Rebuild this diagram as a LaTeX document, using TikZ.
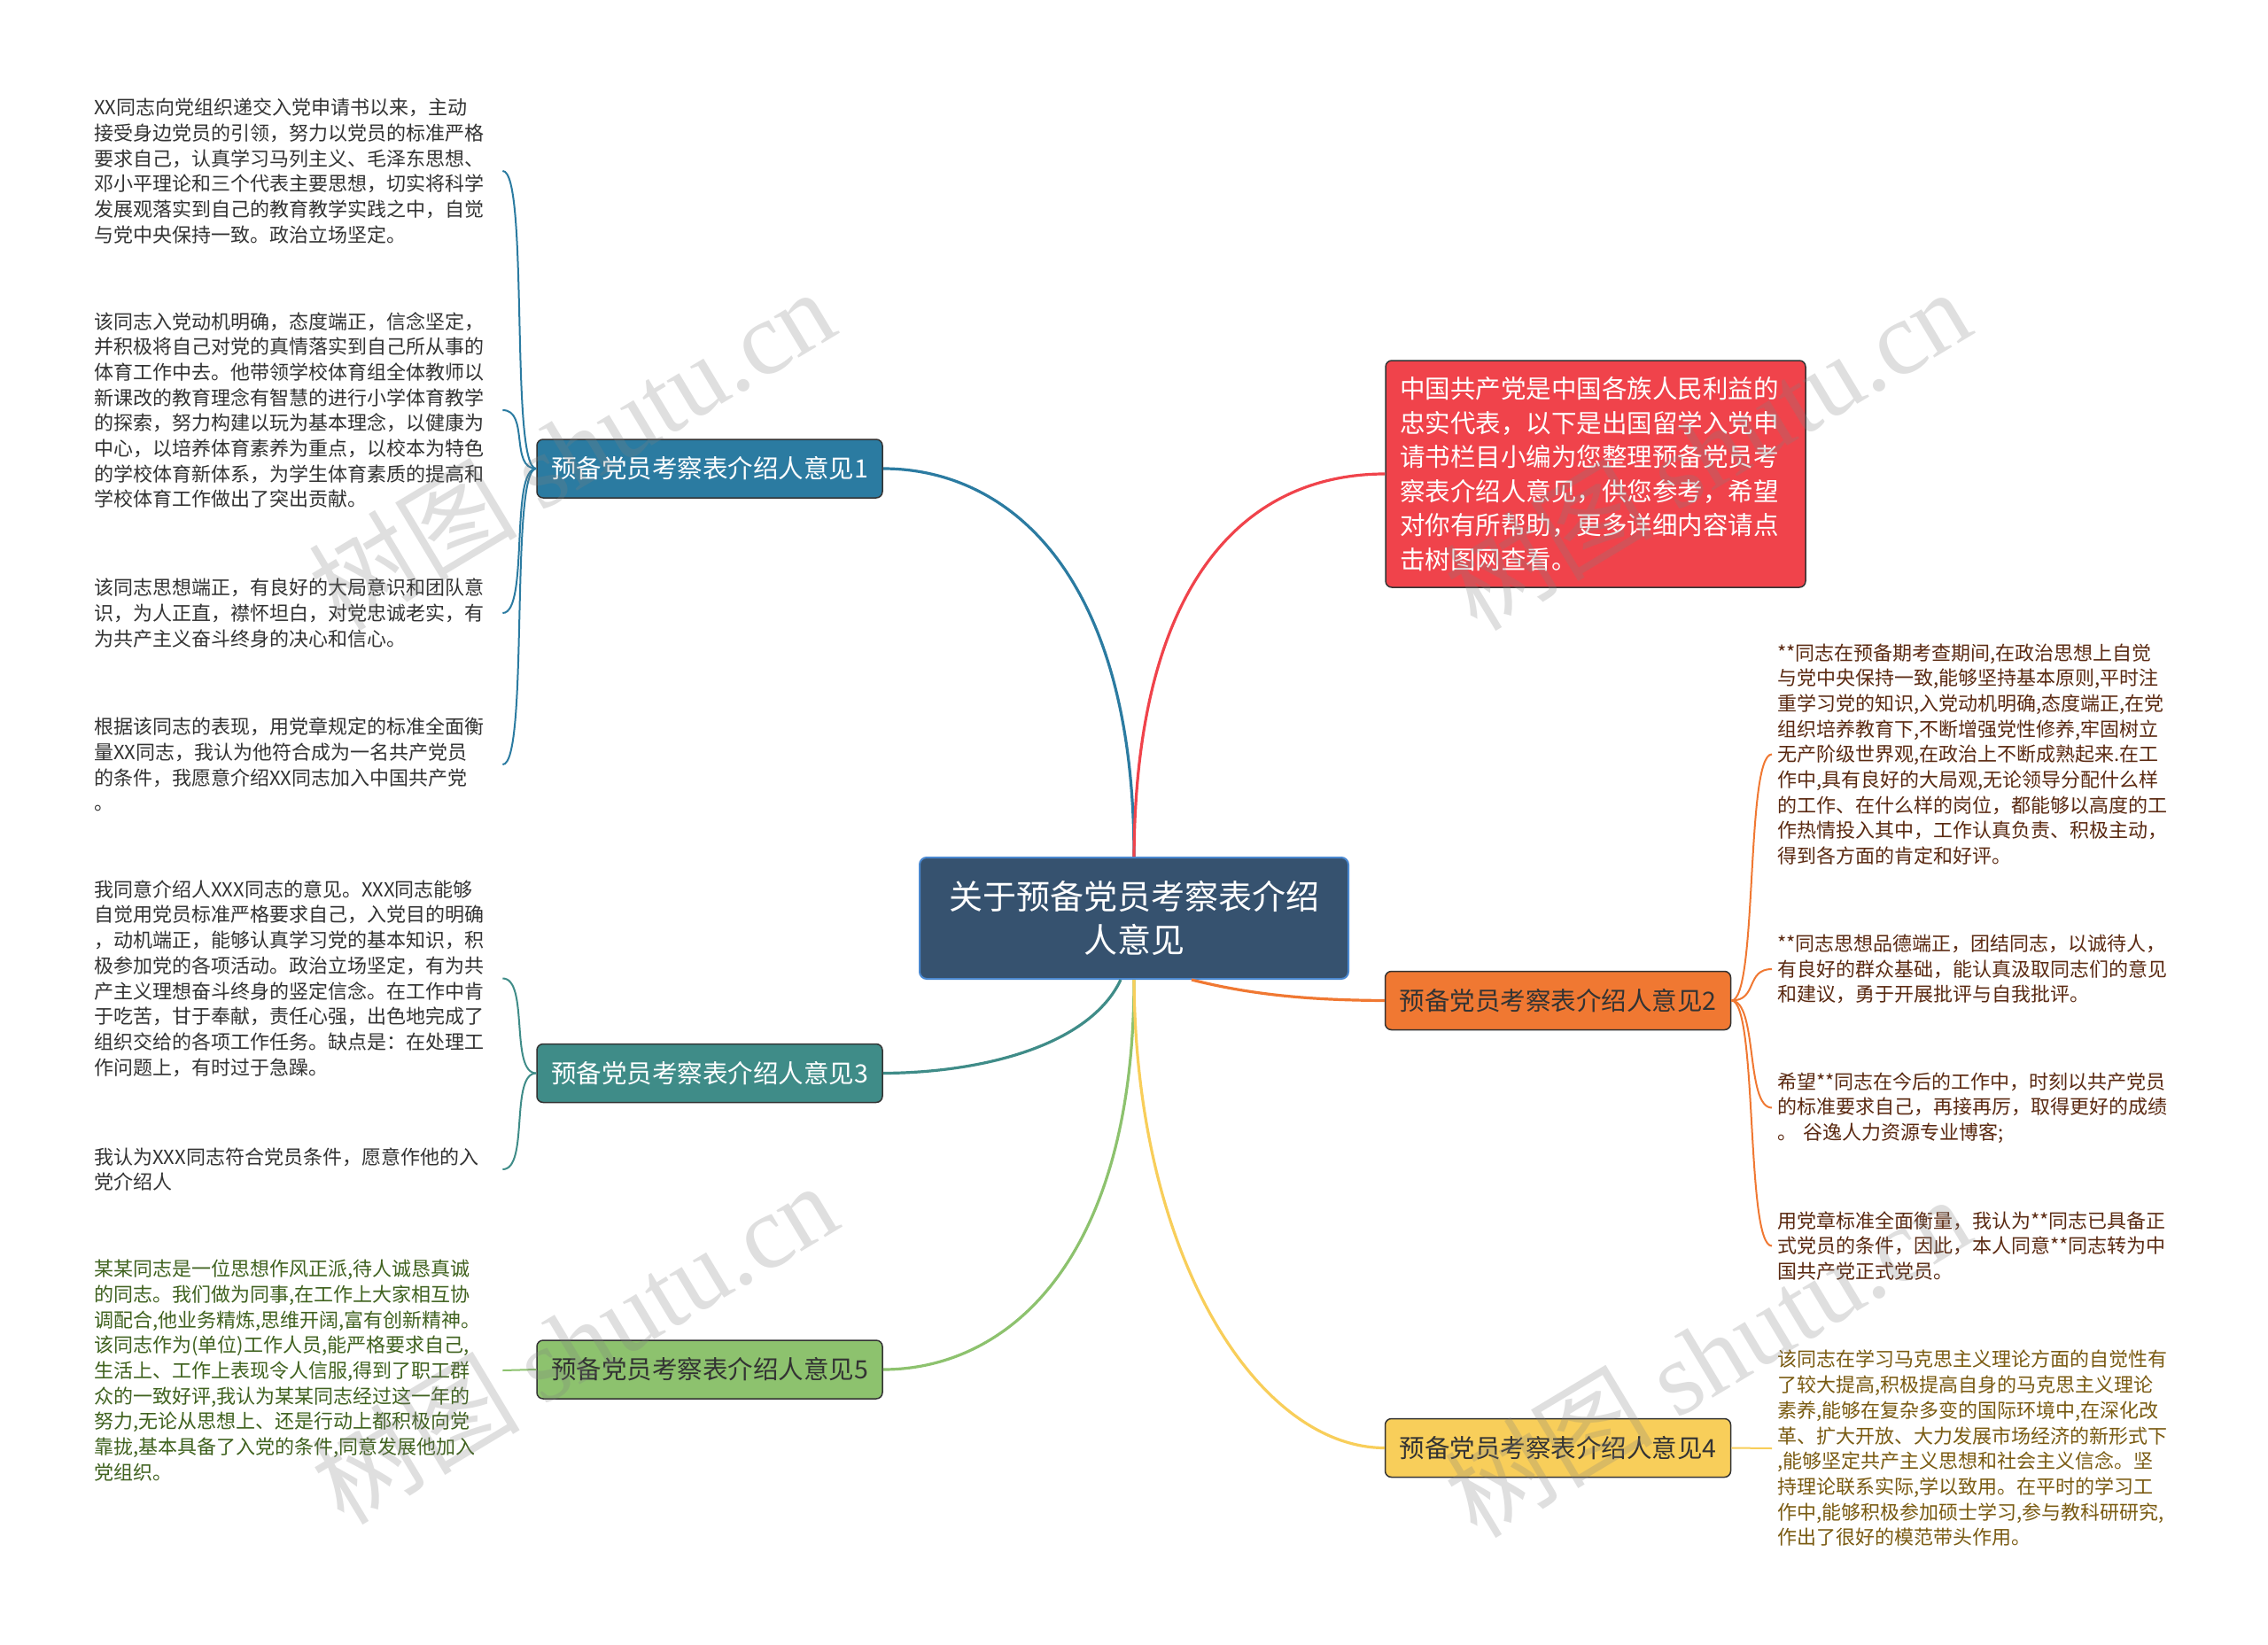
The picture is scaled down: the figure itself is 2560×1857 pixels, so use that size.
\documentclass[tikz,border=0pt]{standalone}
\usepackage{fontspec}
\setmainfont{Noto Sans CJK SC}
\newfontfamily\wmserif{Liberation Serif}
\definecolor{cBlue}{HTML}{2B7BA1}
\definecolor{cTeal}{HTML}{3F8C88}
\definecolor{cGreen}{HTML}{8DC26E}
\definecolor{cRed}{HTML}{F0434B}
\definecolor{cOrange}{HTML}{F07832}
\definecolor{cYellow}{HTML}{F8CE5A}
\definecolor{cCenter}{HTML}{36526F}
\definecolor{cCenterBorder}{HTML}{4A88D0}
\definecolor{tDark}{HTML}{333333}
\definecolor{tGreen}{HTML}{40621F}
\definecolor{tBrown}{HTML}{5B2A12}
\definecolor{tGold}{HTML}{7A5B12}
\begin{document}
\begin{tikzpicture}[x=1pt,y=-1pt,
  mainbox/.style={rounded corners=8pt, fill=cCenter, draw=cCenterBorder, line width=2pt,
    minimum width=484pt, minimum height=137pt, text=white, align=center,
    font=\fontsize{38}{49}\selectfont},
  branch/.style={rounded corners=7pt, draw=black!80, line width=1.5pt,
    minimum width=390pt, minimum height=66pt, inner sep=0pt,
    font=\fontsize{28.5}{34}\selectfont},
  introbox/.style={rounded corners=7pt, fill=cRed, draw=black!80, line width=1.5pt,
    minimum width=474pt, minimum height=256pt, text width=442pt, inner sep=16pt,
    align=left, text=white, font=\fontsize{28.5}{38.5}\selectfont},
  leaf/.style={anchor=west, text width=455pt, align=left, inner xsep=6pt, inner ysep=2pt,
    font=\fontsize{22}{28.7}\selectfont},
  link/.style={line width=3.2pt},
  sublink/.style={line width=2pt},
  wmark/.style={rotate=31, text=gray, opacity=0.25, font=\fontsize{118}{118}\selectfont}]

\fill[white] (0,0) rectangle (2560,1857);
\useasboundingbox (0,0) rectangle (2560,1857);

% main nodes
\node[mainbox] (c) at (1280,1036.5) {关于预备党员考察表介绍\\人意见};
\node[branch, fill=cBlue, text=white] (b1) at (801,529) {预备党员考察表介绍人意见1};
\node[branch, fill=cTeal, text=white] (b3) at (801,1211.5) {预备党员考察表介绍人意见3};
\node[branch, fill=cGreen, text=tDark] (b5) at (801,1546) {预备党员考察表介绍人意见5};
\node[branch, fill=cOrange, text=tDark] (b2) at (1758.5,1129.5) {预备党员考察表介绍人意见2};
\node[branch, fill=cYellow, text=tDark] (b4) at (1758.5,1634.5) {预备党员考察表介绍人意见4};
\node[introbox] (red) at (1801,535) {中国共产党是中国各族人民利益的\\忠实代表，以下是出国留学入党申\\请书栏目小编为您整理预备党员考\\察表介绍人意见，供您参考，希望\\对你有所帮助，更多详细内容请点\\击树图网查看。};

% leaves left
\node[leaf, text=tDark] (l1) at (100,193) {XX同志向党组织递交入党申请书以来，主动\\接受身边党员的引领，努力以党员的标准严格\\要求自己，认真学习马列主义、毛泽东思想、\\邓小平理论和三个代表主要思想，切实将科学\\发展观落实到自己的教育教学实践之中，自觉\\与党中央保持一致。政治立场坚定。};
\node[leaf, text=tDark] (l2) at (100,463) {该同志入党动机明确，态度端正，信念坚定，\\并积极将自己对党的真情落实到自己所从事的\\体育工作中去。他带领学校体育组全体教师以\\新课改的教育理念有智慧的进行小学体育教学\\的探索，努力构建以玩为基本理念，以健康为\\中心，以培养体育素养为重点，以校本为特色\\的学校体育新体系，为学生体育素质的提高和\\学校体育工作做出了突出贡献。};
\node[leaf, text=tDark] (l3) at (100,692) {该同志思想端正，有良好的大局意识和团队意\\识，为人正直，襟怀坦白，对党忠诚老实，有\\为共产主义奋斗终身的决心和信心。};
\node[leaf, text=tDark] (l4) at (100,863) {根据该同志的表现，用党章规定的标准全面衡\\量XX同志，我认为他符合成为一名共产党员\\的条件，我愿意介绍XX同志加入中国共产党\\。};
\node[leaf, text=tDark] (l5) at (100,1104.5) {我同意介绍人XXX同志的意见。XXX同志能够\\自觉用党员标准严格要求自己，入党目的明确\\，动机端正，能够认真学习党的基本知识，积\\极参加党的各项活动。政治立场坚定，有为共\\产主义理想奋斗终身的竖定信念。在工作中肯\\于吃苦，甘于奉献，责任心强，出色地完成了\\组织交给的各项工作任务。缺点是：在处理工\\作问题上，有时过于急躁。};
\node[leaf, text=tDark] (l6) at (100,1320) {我认为XXX同志符合党员条件，愿意作他的入\\党介绍人};
\node[leaf, text=tGreen] (l7) at (100,1547) {某某同志是一位思想作风正派,待人诚恳真诚\\的同志。我们做为同事,在工作上大家相互协\\调配合,他业务精炼,思维开阔,富有创新精神。\\该同志作为(单位)工作人员,能严格要求自己,\\生活上、工作上表现令人信服,得到了职工群\\众的一致好评,我认为某某同志经过这一年的\\努力,无论从思想上、还是行动上都积极向党\\靠拢,基本具备了入党的条件,同意发展他加入\\党组织。};

% leaves right
\node[leaf, text=tBrown] (r1) at (2000,851.5) {**同志在预备期考查期间,在政治思想上自觉\\与党中央保持一致,能够坚持基本原则,平时注\\重学习党的知识,入党动机明确,态度端正,在党\\组织培养教育下,不断增强党性修养,牢固树立\\无产阶级世界观,在政治上不断成熟起来.在工\\作中,具有良好的大局观,无论领导分配什么样\\的工作、在什么样的岗位，都能够以高度的工\\作热情投入其中，工作认真负责、积极主动，\\得到各方面的肯定和好评。};
\node[leaf, text=tBrown] (r2) at (2000,1094) {**同志思想品德端正，团结同志，以诚待人，\\有良好的群众基础，能认真汲取同志们的意见\\和建议，勇于开展批评与自我批评。};
\node[leaf, text=tBrown] (r3) at (2000,1250.5) {希望**同志在今后的工作中，时刻以共产党员\\的标准要求自己，再接再厉，取得更好的成绩\\。 谷逸人力资源专业博客;};
\node[leaf, text=tBrown] (r4) at (2000,1406.5) {用党章标准全面衡量，我认为**同志已具备正\\式党员的条件，因此，本人同意**同志转为中\\国共产党正式党员。};
\node[leaf, text=tGold] (r5) at (2000,1635) {该同志在学习马克思主义理论方面的自觉性有\\了较大提高,积极提高自身的马克思主义理论\\素养,能够在复杂多变的国际环境中,在深化改\\革、扩大开放、大力发展市场经济的新形式下\\,能够坚定共产主义思想和社会主义信念。坚\\持理论联系实际,学以致用。在平时的学习工\\作中,能够积极参加硕士学习,参与教科研研究,\\作出了很好的模范带头作用。};

% connectors
\draw[link, cBlue] (c.north) .. controls (1280,650) and (1140,529) .. (b1.east);
\draw[link, cRed] (c.north) .. controls (1282,650) and (1410,535) .. (red.west);
\draw[link, cGreen] (c.south) .. controls (1280,1420) and (1140,1546) .. (b5.east);
\draw[link, cYellow] (c.south) .. controls (1282,1420) and (1420,1634) .. (b4.west);
\draw[link, cTeal] ([xshift=-15pt]c.south) .. controls (1230,1180) and (1110,1211) .. (b3.east);
\draw[link, cOrange] ([xshift=65pt]c.south) .. controls (1420,1125) and (1490,1129) .. (b2.west);

\foreach \l in {l1,l2,l3,l4}
  \draw[sublink, cBlue] (b1.west) .. controls +(-30,0) and +(30,0) .. (\l.east);
\foreach \l in {l5,l6}
  \draw[sublink, cTeal] (b3.west) .. controls +(-30,0) and +(30,0) .. (\l.east);
\draw[sublink, cGreen] (b5.west) -- (l7.east);
\foreach \r in {r1,r2,r3,r4}
  \draw[sublink, cOrange] (b2.east) .. controls +(30,0) and +(-30,0) .. (\r.west);
\draw[sublink, cYellow] (b4.east) -- (r5.west);

% watermarks
\node[wmark] (w1) at (645,506) {树图 {\wmserif shutu.cn}};
\node[wmark] (w2) at (1927,506) {树图 {\wmserif shutu.cn}};
\node[wmark] (w3) at (648,1515) {树图 {\wmserif shutu.cn}};
\node[wmark] (w4) at (1927,1530) {树图 {\wmserif shutu.cn}};
\end{tikzpicture}
\end{document}
